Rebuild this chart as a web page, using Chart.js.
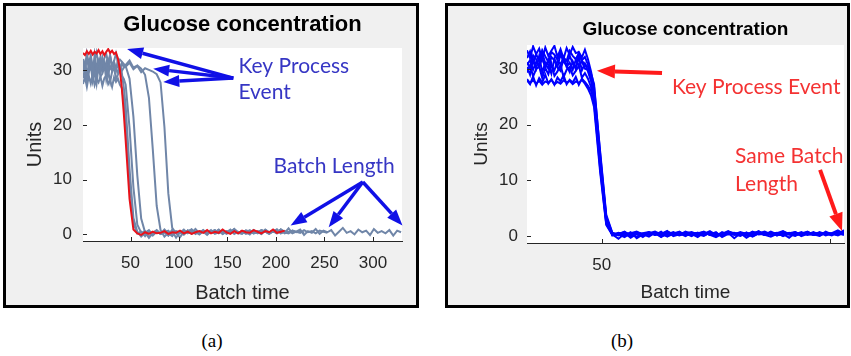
<!DOCTYPE html>
<html><head><meta charset="utf-8">
<script src="https://cdn.jsdelivr.net/npm/chart.js@4.4.1/dist/chart.umd.min.js"></script>
<style>
html,body{margin:0;padding:0;background:#fff;width:851px;height:356px;overflow:hidden;}
.panel{position:absolute;box-sizing:border-box;border:3px solid #000;background:#f0f0f0;}
#pa{left:3px;top:3px;width:416px;height:305px;}
#pb{left:445px;top:3px;width:405px;height:305px;}
canvas{display:block;}
.cap{position:absolute;top:330px;font-family:"Liberation Serif","Times New Roman",serif;font-size:19px;line-height:22px;color:#000;width:40px;text-align:center;}
</style></head>
<body>
<div class="panel" id="pa"><canvas id="ca" width="410" height="299"></canvas></div>
<div class="panel" id="pb"><canvas id="cb" width="399" height="299"></canvas></div>
<div class="cap" style="left:192px">(a)</div>
<div class="cap" style="left:602px">(b)</div>
<script>
// ---------- texts and ticks ----------
const titleA = "Glucose concentration";
const titleB = "Glucose concentration";
const xTitle = "Batch time";
const yTitle = "Units";
const xTicksA = [50, 100, 150, 200, 250, 300];
const xLabelsA = ["50", "100", "150", "200", "250", "300"];
const yTicks = [0, 10, 20, 30];
const yLabels = ["0", "10", "20", "30"];
const xTicksB = [50, 200];
const xLabelsB = ["50", ""];

// ---------- Panel (a): unaligned batches ----------
const tA = [1,3,5,7,9,11,13,15,17,19,21,23,25,27,29,31,33,35,37,39,41,43,
  45,49,53,57,61,65,69,73,77,
  81,85,89,93,97,101,105,109,113,117,
  121,125,129,133,137,141,145,149,153,157,
  161,165,169,173,177,181,185,189,193,197,
  201,205,209,213,217,221,225,229,233,237,
  241,245,249,253,257,261,265,269,273,277,
  281,285,289,293,297,301,305,309,313,317,
  321,325,329];

const redA = [33.2,32.8,33.5,33.0,33.6,32.9,33.4,33.1,33.7,33.0,33.5,32.8,33.4,33.9,33.2,33.6,33.0,33.3,32.2,30.2,26.8,22.3,
  17.2,6.5,0.9,
  0.2,-0.1,0.4,0.1,0.5,0.2,0.3,0.6,0.1,0.4,
  0.3,0.7,0.2,0.5,0.1,0.4,0.6,0.3,0.8,0.2,
  0.5,0.3,0.9,0.4,0.1,0.6,0.2,0.7,0.4,0.3,
  0.8,0.5,0.2,0.6,0.4,0.9,0.3,0.5,0.7];

const grayA1 = [31.2,29.4,32.6,30.1,31.8,29.2,32.9,30.5,31.7,29.8,32.3,30.6,31.1,29.5,32.7,30.8,31.4,29.9,32.0,30.9,29.6,27.0,
  23.5,12.0,3.0,0.5,
  -0.4,0.3,0.8,-0.2,0.5,0.1,0.9,0.2,-0.3,0.6,
  0.4,0.0,0.7,0.3,1.0,0.2,0.5,-0.1,0.6,0.4,
  0.8,0.1,0.5,0.3,0.9,0.2,0.6,0.4,0.0,0.7,
  0.3,0.8,0.5,0.1,0.6,0.9,0.2,0.5,0.4];

const grayA2 = [28.6,30.3,27.8,29.6,31.0,28.1,29.9,27.6,30.7,28.9,29.4,31.1,28.3,30.0,27.9,29.8,30.5,28.4,29.2,30.6,29.0,28.5,
  27.4,19.5,8.6,1.8,0.3,
  0.6,-0.5,0.2,0.7,0.1,0.4,-0.2,0.8,0.3,0.5,
  0.0,0.6,0.9,0.2,0.4,0.7,0.1,0.5,0.3,0.8,
  0.2,0.6,0.4,1.0,0.3,0.1,0.7,0.5,0.2,0.6,
  0.4,0.8,0.3,0.5,0.9,0.2,0.6,0.4];

const grayA3 = [32.1,30.5,33.1,31.2,32.8,30.7,31.9,33.3,31.0,32.5,30.9,32.2,33.0,31.3,32.6,30.8,31.7,33.1,31.5,32.0,31.6,31.2,
  30.8,28.5,21.5,10.8,2.9,0.4,
  -0.6,0.3,0.7,0.1,0.5,-0.2,0.8,0.4,0.2,0.6,
  0.3,0.9,0.1,0.5,0.7,0.2,0.4,0.8,0.3,0.6,
  0.1,0.5,0.9,0.4,0.2,0.7,0.3,0.6,0.5,0.1,
  0.8,0.4,0.6,0.2,0.9,0.5,0.3,0.7,0.4,0.6,
  0.3];

const grayA4 = [27.5,28.8,27.0,29.0,27.6,29.3,27.3,28.4,27.8,28.9,27.2,28.6,29.1,27.5,28.2,27.0,28.7,27.9,28.5,27.4,26.8,24.5,
  20.6,9.8,2.1,0.2,
  0.5,-0.3,0.6,0.2,0.8,0.1,0.4,0.7,-0.1,0.5,
  0.3,0.9,0.2,0.6,0.4,0.1,0.7,0.3,0.5,0.8,
  0.2,0.6,0.4,0.9,0.1,0.5,0.3,0.7,0.6,0.2,
  0.4,0.8,0.5,0.1,0.6,0.3,0.9,0.4,0.2,0.7,
  0.5,0.3,0.8,0.4,0.6,0.2,0.7,0.5,0.3];

const grayA5 = [30.2,31.5,29.5,30.8,32.1,30.3,31.3,29.8,30.7,31.7,30.0,31.1,29.7,31.9,30.4,30.9,31.6,30.2,31.0,29.9,31.4,30.6,
  31.0,31.8,30.5,30.9,30.3,
  29.2,25.0,15.5,5.2,0.8,
  -0.4,0.3,0.6,-0.6,0.4,0.1,0.7,0.2,0.5,0.0,
  0.6,0.3,0.8,0.1,0.4,0.7,0.2,0.5,0.9,0.3,
  0.6,0.1,0.4,0.8,0.2,0.5,0.7,0.3,0.6,0.4,
  0.9,0.2,0.5,0.3];

const grayA6 = [29.8,30.9,29.0,30.4,31.3,29.5,30.8,29.3,30.6,31.1,29.7,30.2,31.5,29.4,30.7,29.9,31.0,30.3,29.6,30.8,29.9,30.5,
  30.7,31.4,30.2,30.8,29.7,30.4,30.1,29.8,29.3,
  27.8,19.6,7.5,1.2,0.2,
  -0.5,0.4,0.7,0.1,0.5,0.3,0.8,0.2,0.6,0.4,
  0.9,0.1,0.5,0.3,0.7,0.2,0.6,0.4,0.8,0.3,
  0.5,0.1,0.9,0.4,0.6,0.2,0.7,0.3,1.1,0.2,
  0.5,0.9,-0.1,0.6,0.3,1.0,0.1,0.7,0.4,0.8,
  -0.2,0.5,1.2,0.3,0.6,0.0,0.9,0.4,0.7,-0.1,
  1.0,0.3,0.6,0.2,0.8,-0.2,0.7,0.4];

// ---------- Panel (b): aligned batches ----------
const tB = [1,3,5,7,9,11,13,15,17,19,21,23,25,27,29,31,33,35,37,39,41,43,
  45,49,53,57,61,65,69,73,77,
  81,85,89,93,97,101,105,109,113,117,
  121,125,129,133,137,141,145,149,153,157,
  161,165,169,173,177,181,185,189,193,197,
  201,205,209];

const blueB1 = [30.4,29.0,31.8,30.1,32.4,29.4,31.2,30.8,29.2,31.9,30.3,29.7,32.0,30.6,29.5,31.4,30.0,32.2,29.8,31.0,29.6,27.9,
  25.4,14.0,3.2,0.4,
  0.2,0.6,-0.3,0.4,0.1,0.7,0.3,0.5,0.0,0.6,
  0.2,0.8,0.4,0.1,0.5,0.3,0.7,-0.2,0.4,0.6,
  0.1,0.5,0.3,0.9,0.2,0.4,0.6,0.0,0.5,0.3,
  0.7,0.2,0.4,0.6,0.1,0.5,1.0,0.4];
const blueB2 = [33.4,32.0,34.1,32.7,33.7,31.8,33.9,32.4,33.3,34.2,32.2,33.6,31.9,33.8,32.6,34.0,32.9,33.1,32.1,33.5,31.8,29.6,
  26.8,15.2,3.8,0.6,
  0.3,-0.2,0.5,0.8,0.1,0.4,0.6,-0.1,0.3,0.7,
  0.2,0.5,0.0,0.6,0.4,0.9,0.1,0.3,0.7,0.2,
  0.5,-0.3,0.4,0.6,0.2,0.8,0.3,0.1,0.5,0.7,
  0.0,0.4,0.6,0.2,0.5,0.3,0.8,0.6];
const blueB3 = [28.0,27.3,28.7,27.1,28.4,27.6,29.0,27.4,28.2,27.2,28.5,27.8,28.9,27.3,28.1,27.6,28.6,27.2,28.3,27.7,27.0,26.1,
  24.6,12.8,2.6,0.2,
  0.5,0.1,0.7,-0.4,0.3,0.6,0.2,0.8,-0.1,0.4,
  0.6,0.3,0.1,0.5,0.7,0.2,-0.2,0.4,0.9,0.3,
  0.0,0.6,0.2,0.5,0.3,0.7,0.1,0.4,-0.3,0.6,
  0.3,0.8,0.2,0.5,0.4,0.1,0.7,0.5];
const blueB4 = [31.2,30.2,32.5,31.8,30.5,33.0,31.0,30.1,32.2,31.6,30.4,32.7,31.3,30.7,32.4,31.1,30.3,32.8,31.5,30.9,30.4,28.6,
  26.0,13.6,2.9,0.1,
  0.4,0.7,0.0,0.5,0.3,-0.1,0.6,0.2,0.8,0.4,
  0.1,0.5,0.7,0.3,0.0,0.6,0.4,0.2,0.8,0.5,
  0.3,0.1,0.7,0.4,0.6,0.2,0.5,0.9,0.3,0.0,
  0.6,0.4,0.2,0.7,0.3,0.5,0.1,0.6];
const blueB5 = [29.4,30.7,28.7,30.0,30.5,28.4,30.2,29.1,31.0,28.8,29.6,30.8,28.6,29.9,30.4,28.9,29.7,30.6,28.5,29.3,28.3,26.8,
  24.0,12.1,2.2,0.3,
  -0.5,0.4,0.2,0.6,0.1,0.5,0.8,0.3,0.0,0.5,
  0.7,0.2,0.4,-0.2,0.6,0.3,0.5,0.1,0.7,0.4,
  0.2,0.6,0.0,0.5,0.8,0.3,0.4,0.1,0.6,0.2,
  0.5,0.7,0.3,0.0,0.6,0.4,0.2,1.1];
const blueB6 = [32.0,33.2,31.1,32.7,31.4,33.4,32.3,31.3,33.1,32.6,31.7,33.0,32.1,31.5,33.3,32.4,31.8,32.9,31.6,32.2,30.8,29.2,
  27.3,14.8,3.5,0.5,
  0.1,0.6,0.3,-0.1,0.5,0.7,0.2,0.4,0.9,0.0,
  0.3,0.6,0.2,0.5,0.1,0.7,0.4,0.3,0.6,-0.4,
  0.5,0.2,0.8,0.3,0.4,0.6,0.1,0.5,0.3,0.7,
  0.2,0.4,0.6,0.1,0.8,0.3,0.5,0.2];
const blueB7 = [28.2,27.5,28.0,27.4,27.9,27.2,27.8,27.5,28.1,27.3,27.7,27.4,28.0,27.6,27.9,27.3,27.8,27.5,28.1,27.4,26.5,25.3,
  23.2,11.5,2.0,0.2,
  0.6,0.3,0.0,0.7,0.4,0.2,0.5,-0.2,0.6,0.3,
  0.8,0.1,0.4,0.6,0.2,0.5,0.0,0.7,0.3,0.4,
  0.6,0.1,0.5,0.8,0.2,-0.1,0.4,0.6,0.3,0.5,
  0.1,0.7,0.2,0.4,0.6,0.3,0.5,0.9];
const blueB8 = [30.8,31.6,29.9,31.3,30.5,32.0,30.2,31.8,30.6,29.8,31.5,30.9,32.1,30.4,31.2,29.9,31.7,30.7,31.4,30.1,29.9,28.2,
  25.8,13.2,2.7,0.3,
  0.3,0.8,0.1,0.5,-0.2,0.6,0.4,0.2,0.7,0.3,
  0.5,0.0,0.6,0.4,0.8,0.2,0.5,0.1,0.6,0.3,
  0.7,0.4,-0.1,0.5,0.2,0.6,0.3,0.8,0.4,0.1,
  0.5,0.3,0.7,0.2,0.6,0.4,0.3,0.8];

// ---------- styling ----------
const AXIS = '#262626';
const GRAY = '#7086a8';
const RED = '#e8121a';
const BLUE = '#0000ff';

function series(ts, vals, color, width) {
  return {
    data: vals.map((v, i) => ({x: ts[i], y: v})),
    borderColor: color, borderWidth: width,
    pointRadius: 0, tension: 0, fill: false, borderJoinStyle: 'miter'
  };
}

function drawArrow(ctx, x1, y1, x2, y2, color, lw, hl, hw) {
  const a = Math.atan2(y2 - y1, x2 - x1);
  const bx = x2 - hl * Math.cos(a), by = y2 - hl * Math.sin(a);
  ctx.strokeStyle = color; ctx.lineWidth = lw; ctx.lineCap = 'butt';
  ctx.beginPath(); ctx.moveTo(x1, y1); ctx.lineTo(bx, by); ctx.stroke();
  ctx.fillStyle = color; ctx.beginPath();
  ctx.moveTo(x2, y2);
  ctx.lineTo(bx + hw / 2 * Math.sin(a), by - hw / 2 * Math.cos(a));
  ctx.lineTo(bx - hw / 2 * Math.sin(a), by + hw / 2 * Math.cos(a));
  ctx.closePath(); ctx.fill();
}

function makePlugins(notes) {
  return [{
    id: 'plotBg',
    beforeDatasetsDraw(chart) {
      const {ctx, chartArea: c} = chart;
      ctx.save(); ctx.fillStyle = '#fff';
      ctx.fillRect(c.left, c.top, c.right - c.left, c.bottom - c.top);
      ctx.restore();
    }
  }, {
    id: 'inTicksNotes',
    afterDatasetsDraw(chart) {
      const {ctx, chartArea: c, scales: {x, y}} = chart;
      ctx.save();
      ctx.strokeStyle = AXIS; ctx.lineWidth = 1; ctx.beginPath();
      x.ticks.forEach(t => { const p = Math.round(x.getPixelForValue(t.value)) + 0.5; ctx.moveTo(p, c.bottom); ctx.lineTo(p, c.bottom - 4); });
      y.ticks.forEach(t => { const p = Math.round(y.getPixelForValue(t.value)) + 0.5; ctx.moveTo(c.left, p); ctx.lineTo(c.left + 4, p); });
      ctx.stroke();
      notes.forEach(n => {
        if (n.type === 'arrow') {
          drawArrow(ctx, x.getPixelForValue(n.from[0]), y.getPixelForValue(n.from[1]),
            x.getPixelForValue(n.to[0]), y.getPixelForValue(n.to[1]), n.color, n.lw, n.hl, n.hw);
        } else {
          ctx.fillStyle = n.color; ctx.font = n.font;
          ctx.textAlign = 'left'; ctx.textBaseline = 'middle';
          ctx.fillText(n.text, x.getPixelForValue(n.at[0]), y.getPixelForValue(n.at[1]));
        }
      });
      ctx.restore();
    }
  }];
}

function makeChart(id, o) {
  return new Chart(document.getElementById(id), {
    type: 'line',
    data: {datasets: o.datasets},
    options: {
      responsive: false, animation: false, devicePixelRatio: 1,
      layout: {padding: {left: 0, right: o.padRight, top: 0, bottom: 0}},
      plugins: {
        legend: {display: false}, tooltip: {enabled: false},
        title: {display: true, text: o.title, fullSize: false, color: '#000',
          font: {family: '"Liberation Sans", Arial, Helvetica, sans-serif', size: o.titleSize, weight: 'bold', lineHeight: 1.2},
          padding: o.titlePad}
      },
      scales: {
        x: {
          type: 'linear', min: o.xMin, max: o.xMax,
          afterFit: s => { s.height = o.xAxisH; },
          afterBuildTicks: s => { s.ticks = o.xTicks.map(v => ({value: v})); },
          grid: {display: false, drawTicks: false},
          border: {display: true, color: AXIS, width: 1},
          ticks: {padding: 12, color: AXIS, maxRotation: 0, autoSkip: false,
            font: {family: '"Liberation Sans", Arial, sans-serif', size: 17, lineHeight: 1.2},
            callback: (v, i) => o.xLabels[i]},
          title: {display: true, text: xTitle, color: AXIS, padding: {top: 0, bottom: o.xTitlePadB},
            font: {family: '"Liberation Sans", Arial, sans-serif', size: o.axisTitleSize, lineHeight: 1.2}}
        },
        y: {
          type: 'linear', min: o.yMin, max: o.yMax,
          afterFit: s => { s.width = o.yAxisW; },
          afterBuildTicks: s => { s.ticks = yTicks.map(v => ({value: v})); },
          grid: {display: false, drawTicks: false},
          border: {display: true, color: AXIS, width: 1},
          ticks: {padding: o.yTickPad, color: AXIS, autoSkip: false,
            font: {family: '"Liberation Sans", Arial, sans-serif', size: 17, lineHeight: 1.2},
            callback: (v, i) => yLabels[i]},
          title: {display: true, text: yTitle, color: AXIS, padding: {top: o.yTitlePadT, bottom: 0},
            font: {family: '"Liberation Sans", Arial, sans-serif', size: o.axisTitleSize, lineHeight: 1.2}}
        }
      }
    },
    plugins: makePlugins(o.notes)
  });
}

const noteFont = '21px Lato, "Open Sans", sans-serif';
const NB = '#1010e6', NBT = '#3636c4', NR = '#ff1a1a', NRT = '#f43232';

makeChart('ca', {
  title: titleA, titleSize: 22, titlePad: {top: 6, bottom: 9.6},
  padRight: 14, xAxisH: 64, yAxisW: 77,
  xMin: 1, xMax: 330, yMin: -1.2, yMax: 34.1,
  xTicks: xTicksA, xLabels: xLabelsA,
  yTickPad: 11, axisTitleSize: 20, xTitlePadB: 0, yTitlePadT: 17,
  datasets: [
    series(tA, redA, RED, 2),
    series(tA, grayA1, GRAY, 2),
    series(tA, grayA2, GRAY, 2),
    series(tA, grayA3, GRAY, 2),
    series(tA, grayA4, GRAY, 2),
    series(tA, grayA5, GRAY, 2),
    series(tA, grayA6, GRAY, 2)
  ],
  notes: [
    {type: 'arrow', from: [156, 28.6], to: [46.5, 33.9], color: NB, lw: 3.5, hl: 16, hw: 12},
    {type: 'arrow', from: [156, 28.6], to: [73.4, 30.3], color: NB, lw: 3.5, hl: 16, hw: 12},
    {type: 'arrow', from: [156, 28.6], to: [83.8, 27.9], color: NB, lw: 3.5, hl: 16, hw: 12},
    {type: 'text', at: [161.3, 30.7], text: 'Key Process', color: NBT, font: noteFont},
    {type: 'text', at: [161.3, 26.1], text: 'Event', color: NBT, font: noteFont},
    {type: 'text', at: [197.5, 12.5], text: 'Batch Length', color: NBT, font: noteFont},
    {type: 'arrow', from: [289.6, 9.6], to: [215.1, 1.65], color: NB, lw: 3.5, hl: 16, hw: 12},
    {type: 'arrow', from: [289.6, 9.6], to: [254.4, 1.3], color: NB, lw: 3.5, hl: 16, hw: 12},
    {type: 'arrow', from: [289.6, 9.6], to: [330.5, 1.65], color: NB, lw: 3.5, hl: 16, hw: 12}
  ]
});

makeChart('cb', {
  title: titleB, titleSize: 19, titlePad: {top: 12.6, bottom: 3.6},
  padRight: 3, xAxisH: 62, yAxisW: 79,
  xMin: 1, xMax: 209, yMin: -1.25, yMax: 34.35,
  xTicks: xTicksB, xLabels: xLabelsB,
  yTickPad: 9, axisTitleSize: 19, xTitlePadB: 0.6, yTitlePadT: 22.6,
  datasets: [
    series(tB, blueB1, BLUE, 2),
    series(tB, blueB2, BLUE, 2),
    series(tB, blueB3, BLUE, 2),
    series(tB, blueB4, BLUE, 2),
    series(tB, blueB5, BLUE, 2),
    series(tB, blueB6, BLUE, 2),
    series(tB, blueB7, BLUE, 2),
    series(tB, blueB8, BLUE, 2)
  ],
  notes: [
    {type: 'arrow', from: [89.6, 29.3], to: [46.9, 29.7], color: NR, lw: 4, hl: 18, hw: 14},
    {type: 'text', at: [96.1, 26.8], text: 'Key Process Event', color: NRT, font: noteFont},
    {type: 'text', at: [137.5, 14.4], text: 'Same Batch', color: NRT, font: noteFont},
    {type: 'text', at: [137.5, 9.35], text: 'Length', color: NRT, font: noteFont},
    {type: 'arrow', from: [193.3, 11.9], to: [207.7, 0.9], color: NR, lw: 4, hl: 18, hw: 14}
  ]
});
</script>
</body></html>
